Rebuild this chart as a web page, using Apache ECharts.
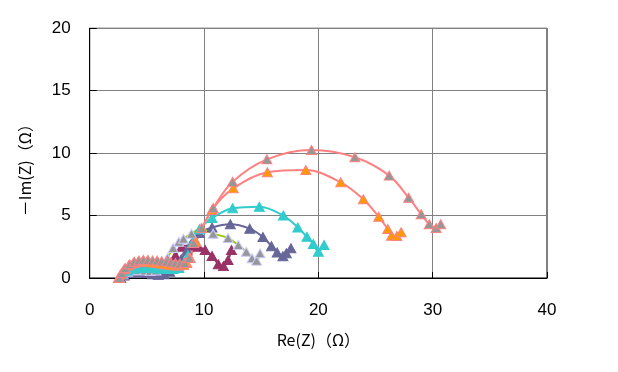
<!DOCTYPE html>
<html><head><meta charset="utf-8">
<script src="https://cdn.jsdelivr.net/npm/echarts@6/dist/echarts.min.js"></script>
<style>html,body{margin:0;padding:0;background:#fff}#c{width:618px;height:372px}</style>
</head><body><div id="c"></div>
<script>
// axis ticks
const xTicks = [0, 10, 20, 30, 40];
const yTicks = [0, 5, 10, 15, 20];

// series F (maroon)
const fX = [2.7,3.0,3.5,4.0,4.5,5.0,5.5,6.0,6.5,7.0,7.5,8.05,8.8,9.5,10.1,10.7,11.25,11.7,12.1,12.4];
const fY = [0,0.2,0.4,0.5,0.55,0.5,0.4,0.4,0.7,1.2,1.8,2.5,2.6,2.5,2.24,1.76,1.1,0.95,1.44,2.24];
// series D (navy)
const dX = [2.7,3.0,3.5,4.0,4.5,5.0,5.5,6.0,6.5,7.0,7.5,8.0,8.5,9.0,9.6,10.7,12.3,14.0,15.15,15.9,16.4,16.9,17.2,17.6];
const dY = [0,0.25,0.4,0.45,0.45,0.4,0.3,0.25,0.3,0.5,0.9,1.5,2.2,2.9,3.6,4.05,4.3,3.95,3.28,2.55,2.05,1.75,1.98,2.38];
// series E (gray / lavender, yellow-green line)
const eX = [2.6,2.9,3.3,3.8,4.3,4.8,5.3,5.8,6.3,6.8,7.3,7.8,8.2,8.9,9.7,10.8,12.1,13.0,13.7,14.2,14.6,14.9];
const eY = [0,0.3,0.5,0.6,0.65,0.6,0.55,0.6,0.9,1.6,2.4,2.9,3.15,3.55,3.95,3.55,3.2,2.64,2.1,1.58,1.39,1.98];
// series C (cyan)
const cX = [2.6,2.9,3.3,3.8,4.3,4.8,5.3,5.8,6.3,6.8,7.3,7.8,8.2,8.6,9.0,9.6,10.7,12.5,14.84,16.94,18.2,19.0,19.56,20.0,20.5];
const cY = [0,0.35,0.6,0.75,0.8,0.8,0.8,0.78,0.75,0.72,0.72,0.8,1.1,1.8,2.8,3.9,4.8,5.58,5.71,5.0,4.05,3.3,2.72,2.1,2.64];
// series B (orange)
const bX = [2.5,2.7,3.0,3.4,3.8,4.2,4.6,5.0,5.4,5.8,6.2,6.6,7.0,7.4,7.8,8.2,8.5,8.8,9.3,10.7,12.56,15.54,18.9,21.96,23.94,25.28,26.07,26.4,26.86,27.24];
const bY = [0,0.3,0.7,1.0,1.2,1.25,1.3,1.3,1.25,1.2,1.15,1.1,1.05,1.0,1.0,1.05,1.2,1.6,2.9,5.45,7.18,8.47,8.65,7.66,6.3,4.9,3.92,3.39,3.36,3.66];
// series A (gray / salmon)
const aX = [2.6,2.8,3.1,3.5,3.9,4.3,4.7,5.1,5.5,5.9,6.3,6.7,7.1,7.5,7.9,8.3,8.7,9.1,9.8,10.8,12.5,15.5,19.4,23.2,26.2,27.9,29.0,29.7,30.3,30.7];
const aY = [0,0.4,0.8,1.1,1.3,1.4,1.45,1.45,1.4,1.4,1.35,1.3,1.25,1.2,1.15,1.2,1.6,2.8,4.0,5.6,7.7,9.5,10.25,9.67,8.2,6.43,5.1,4.3,4.0,4.3];

function zip(xs, ys){ return xs.map((x,i)=>[x, ys[i]]); }
function ser(xs, ys, fill, border, line){
  return {
    type:'line', data: zip(xs, ys), smooth: 0.35,
    symbol:'triangle', symbolSize:[10,9],
    itemStyle:{color:fill, borderColor:border, borderWidth:1},
    lineStyle:{color:line, width:2},
    emphasis:{disabled:true}
  };
}
const font = 'Liberation Sans, Arial, sans-serif';
const chart = echarts.init(document.getElementById('c'), null, {renderer:'canvas'});
chart.setOption({
  animation:false,
  backgroundColor:'#fff',
  grid:{left:89.7, right:71, top:28.3, bottom:94, show:true, borderColor:'#000', borderWidth:1, backgroundColor:'transparent'},
  xAxis:{type:'value', min:xTicks[0], max:xTicks[xTicks.length-1], interval:10,
    name:'Re(Z)（Ω）', nameLocation:'middle', nameGap:54,
    nameTextStyle:{fontFamily:'Noto Sans CJK JP', fontSize:16, color:'#000'},
    axisLine:{show:true, lineStyle:{color:'#000'}},
    axisTick:{show:true, inside:true, length:6, lineStyle:{color:'#000'}},
    axisLabel:{fontFamily:font, fontSize:17, color:'#000', margin:24},
    splitLine:{show:true, lineStyle:{color:'#808080', width:1}}
  },
  yAxis:{type:'value', min:yTicks[0], max:yTicks[yTicks.length-1], interval:5,
    name:'－Im(Z)（Ω）', nameLocation:'middle', nameGap:57, nameRotate:90,
    nameTextStyle:{fontFamily:'Noto Sans CJK JP', fontSize:16, color:'#000', padding:[0,0,0,-26]},
    axisLine:{show:true, lineStyle:{color:'#000'}},
    axisTick:{show:true, inside:true, length:7, lineStyle:{color:'#000'}},
    axisLabel:{fontFamily:font, fontSize:17, color:'#000', margin:19},
    splitLine:{show:true, lineStyle:{color:'#808080', width:1}}
  },
  series:[
    ser(fX, fY, '#993366', '#993366', '#993366'),
    ser(dX, dY, '#666699', '#666699', '#666699'),
    ser(eX, eY, '#969696', '#CCCCFF', '#99CC00'),
    ser(cX, cY, '#33CCCC', '#33CCCC', '#33CCCC'),
    ser(bX, bY, '#FF9900', '#FF8080', '#FF8080'),
    ser(aX, aY, '#969696', '#FF8080', '#FF8080')
  ]
});
</script></body></html>
